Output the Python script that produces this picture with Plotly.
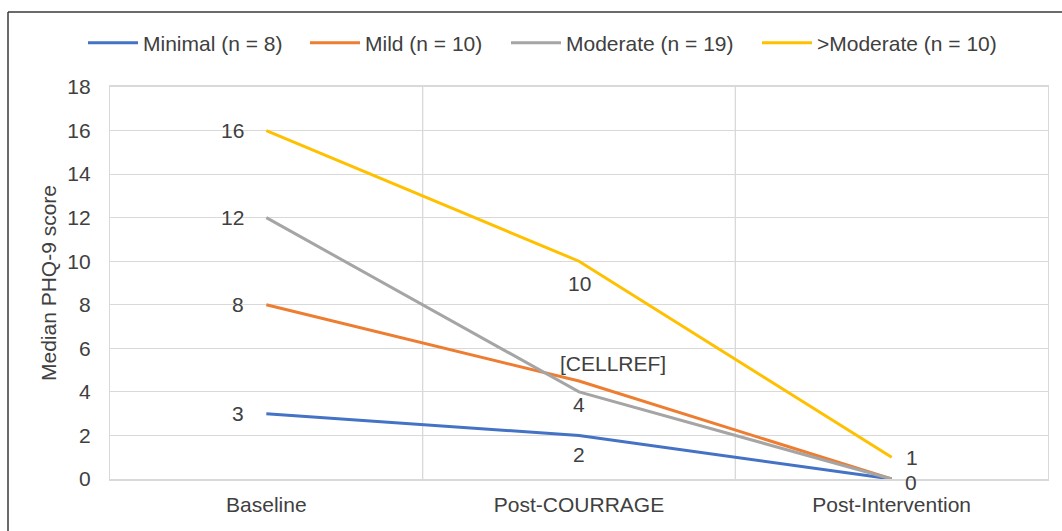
import plotly.graph_objects as go

categories = ["Baseline", "Post-COURRAGE", "Post-Intervention"]
series_names = ["Minimal (n = 8)", "Mild (n = 10)", "Moderate (n = 19)", ">Moderate (n = 10)"]
minimal = [3, 2, 0]
mild = [8, 4.5, 0]
moderate = [12, 4, 0]
above_moderate = [16, 10, 1]
label_minimal = ["3", "2", ""]
label_mild = ["8", "[CELLREF]", ""]
label_moderate = ["12", "4", ""]
label_above = ["16", "10", "1"]
label_zero = "0"

colors = ["#4472C4", "#ED7D31", "#A5A5A5", "#FFC000"]
values = [minimal, mild, moderate, above_moderate]
labels = [label_minimal, label_mild, label_moderate, label_above]
legend_ids = ["legend", "legend2", "legend3", "legend4"]
legend_x_px = [83, 305, 506, 757]   # left edges of legend entries (styling)

FONT = "Liberation Sans, Arial, sans-serif"
TXT = "#404040"
W, H = 1062, 531

fig = go.Figure()
for name, vals, col, lid in zip(series_names, values, colors, legend_ids):
    fig.add_trace(go.Scatter(x=categories, y=vals, mode="lines", name=name, legend=lid,
                             line=dict(color=col, width=3), hoverinfo="skip"))

# data labels (per-point offsets mimic the reference placement)
offsets = {
    0: [(-20, 0, "right"), (0, -19, "center"), None],
    1: [(-20, 0, "right"), (34, 18, "center"), None],
    2: [(-20, 0, "right"), (0, -13, "center"), None],
    3: [(-20, 0, "right"), (0, -22, "center"), (12, 0, "left")],
}
for si, (vals, labs) in enumerate(zip(values, labels)):
    for pi, (v, lab) in enumerate(zip(vals, labs)):
        off = offsets[si][pi]
        if not lab or off is None:
            continue
        fig.add_annotation(x=categories[pi], y=v, text=lab, showarrow=False,
                           xshift=off[0], yshift=off[1], xanchor=off[2],
                           font=dict(family=FONT, size=21, color=TXT))
fig.add_annotation(x=categories[2], y=minimal[2], text=label_zero, showarrow=False,
                   xshift=12, yshift=-3, xanchor="left", borderpad=0,
                   font=dict(family=FONT, size=21, color=TXT))

# vertical gridlines between categories
for xv in [0.5, 1.5]:
    fig.add_shape(type="line", x0=xv, x1=xv, y0=0, y1=1, xref="x", yref="paper",
                  line=dict(color="#D9D9D9", width=1.3), layer="below")

# outer chart frame (only top and left edges visible, as in the cropped reference)
frame_left = (8 - 110) / 938
frame_top = (479 - 12) / 392
fig.add_shape(type="line", x0=frame_left, x1=(1062 - 110) / 938, y0=frame_top, y1=frame_top,
              xref="paper", yref="paper", line=dict(color="#3a3a3a", width=1.5))
fig.add_shape(type="line", x0=frame_left, x1=frame_left, y0=frame_top, y1=(479 - 531) / 392,
              xref="paper", yref="paper", line=dict(color="#3a3a3a", width=1.5))

legend_common = dict(orientation="h", xref="container", yref="container",
                     y=1 - 43 / H, xanchor="left", yanchor="middle", itemwidth=50,
                     font=dict(family=FONT, size=21, color=TXT), bgcolor="rgba(0,0,0,0)")

layout_legends = {lid: dict(legend_common, x=px / W) for lid, px in zip(legend_ids, legend_x_px)}

fig.update_layout(
    width=W, height=H,
    margin=dict(l=110, r=14, t=87, b=52, autoexpand=False),
    paper_bgcolor="white", plot_bgcolor="white",
    font=dict(family=FONT, size=21, color=TXT),
    showlegend=True,
    xaxis=dict(type="category", range=[-0.5, 2.5], showgrid=False, automargin=False,
               showline=True, mirror=True, linecolor="#D9D9D9", linewidth=1.5,
               ticks="", ticklabelstandoff=6, tickfont=dict(size=21, color=TXT)),
    yaxis=dict(range=[0, 18], dtick=2, showgrid=True, gridcolor="#D9D9D9", gridwidth=1.3,
               showline=True, mirror=True, linecolor="#D9D9D9", linewidth=1.3,
               zeroline=False, ticks="", ticklabelstandoff=14, automargin=False,
               tickfont=dict(size=21, color=TXT),
               title=dict(text="Median PHQ-9 score", standoff=4,
                          font=dict(size=21, color=TXT))),
    **layout_legends,
)

fig.write_html("out.html", config={"displayModeBar": False},
               post_script="document.body.style.margin='0';document.body.style.overflow='hidden';")
